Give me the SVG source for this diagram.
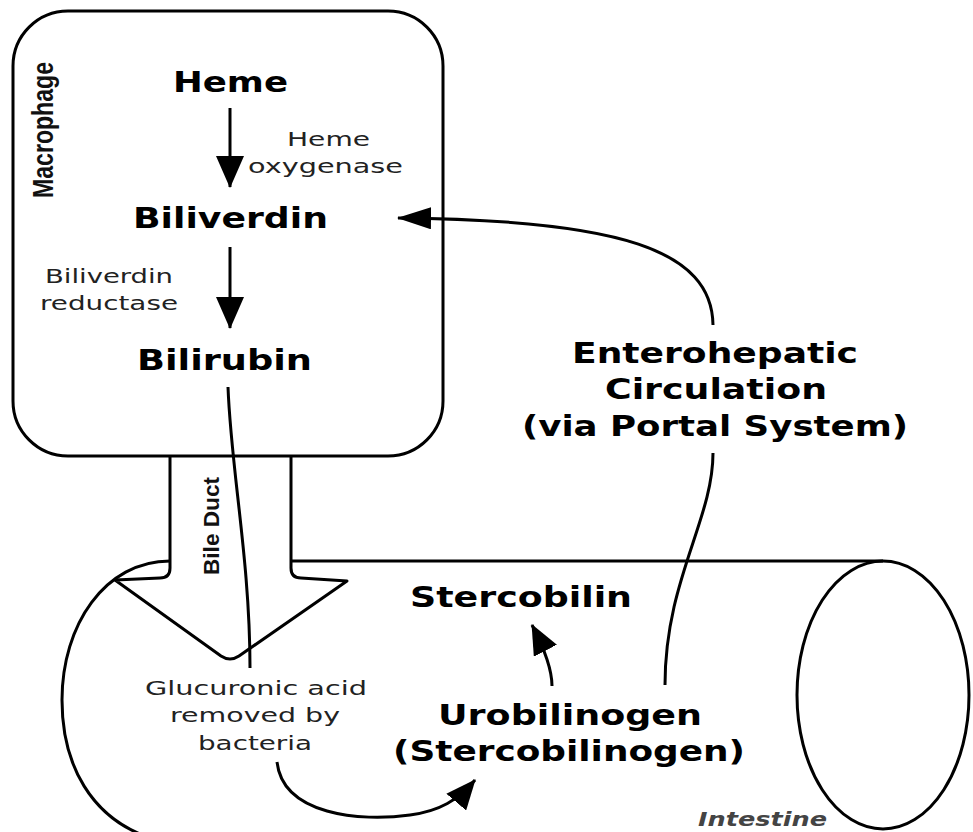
<svg xmlns="http://www.w3.org/2000/svg" width="973" height="832" viewBox="0 0 973 832">
<defs>
<style>
.ln{fill:none;stroke:#000;stroke-width:3;stroke-linecap:butt;stroke-linejoin:round}
.big{font-family:"DejaVu Sans",Verdana,sans-serif;font-weight:bold;font-size:28px;fill:#000}
.sm{font-family:"DejaVu Sans",Verdana,sans-serif;font-size:20px;fill:#222}
.rot{font-family:"Liberation Sans",Arial,sans-serif;font-weight:bold;fill:#111}
.it{font-family:"DejaVu Sans",Verdana,sans-serif;font-style:italic;font-weight:bold;font-size:19px;fill:#444}
</style>
<marker id="ah" viewBox="0 0 32 28" refX="31" refY="14" markerWidth="32" markerHeight="28" markerUnits="userSpaceOnUse" orient="auto">
<path d="M0,0 L32,14 L0,28 z" fill="#000"/>
</marker>
<marker id="ah2" viewBox="0 0 34 22" refX="33" refY="11" markerWidth="34" markerHeight="22" markerUnits="userSpaceOnUse" orient="auto">
<path d="M0,0 L34,11 L0,22 z" fill="#000"/>
</marker>
<marker id="ah3" viewBox="0 0 30 26" refX="29" refY="13" markerWidth="30" markerHeight="26" markerUnits="userSpaceOnUse" orient="auto">
<path d="M0,0 L30,13 L0,26 z" fill="#000"/>
</marker>
</defs>
<rect width="973" height="832" fill="#fff"/>

<g id="intestine">
<path class="ln" d="M291,561 L883,561"/>
<ellipse class="ln" cx="883" cy="695" rx="86" ry="134"/>
<path class="ln" d="M170,561 C105,561 62,625 62,700 C62,770 95,815 140,834"/>
<text class="it" x="698" y="826" textLength="129" lengthAdjust="spacingAndGlyphs">Intestine</text>
</g>

<g id="macrophage">
<rect class="ln" x="13" y="11" width="430" height="445" rx="55" ry="55"/>
<text class="rot" font-size="29" transform="translate(53,198) rotate(-90)" x="0" y="0" textLength="136" lengthAdjust="spacingAndGlyphs">Macrophage</text>
</g>

<g id="bile-duct">
<path class="ln" d="M170,456 L170,568 Q170,578 160,578 L115,580 L221,656 Q230,662 239,656 L347,581 L301,578 Q291,578 291,568 L291,456"/>
<text class="rot" font-size="22" transform="translate(219,575) rotate(-90)" x="0" y="0" textLength="98" lengthAdjust="spacingAndGlyphs">Bile Duct</text>
</g>

<g id="heme">
<text class="big" x="173" y="92" font-size="29" textLength="115" lengthAdjust="spacingAndGlyphs">Heme</text>
</g>
<g id="heme-oxygenase">
<text class="sm" x="287" y="146" textLength="83" lengthAdjust="spacingAndGlyphs">Heme</text>
<text class="sm" x="248" y="173" textLength="155" lengthAdjust="spacingAndGlyphs">oxygenase</text>
</g>
<g id="biliverdin">
<text class="big" x="133" y="228" textLength="195" lengthAdjust="spacingAndGlyphs">Biliverdin</text>
</g>
<g id="biliverdin-reductase">
<text class="sm" x="45" y="283" textLength="128" lengthAdjust="spacingAndGlyphs">Biliverdin</text>
<text class="sm" x="40" y="310" textLength="138" lengthAdjust="spacingAndGlyphs">reductase</text>
</g>
<g id="bilirubin">
<text class="big" x="137" y="370" textLength="175" lengthAdjust="spacingAndGlyphs">Bilirubin</text>
</g>
<g id="enterohepatic">
<text class="big" x="572" y="363" font-size="29" textLength="286" lengthAdjust="spacingAndGlyphs">Enterohepatic</text>
<text class="big" x="605" y="399" font-size="29" textLength="222" lengthAdjust="spacingAndGlyphs">Circulation</text>
<text class="big" x="522" y="436" font-size="29" textLength="386" lengthAdjust="spacingAndGlyphs">(via Portal System)</text>
</g>
<g id="stercobilin">
<text class="big" x="410" y="607" textLength="222" lengthAdjust="spacingAndGlyphs">Stercobilin</text>
</g>
<g id="urobilinogen">
<text class="big" x="438" y="725" font-size="29" textLength="264" lengthAdjust="spacingAndGlyphs">Urobilinogen</text>
<text class="big" x="393" y="761" font-size="29" textLength="352" lengthAdjust="spacingAndGlyphs">(Stercobilinogen)</text>
</g>
<g id="glucuronic">
<text class="sm" x="145" y="695" textLength="222" lengthAdjust="spacingAndGlyphs">Glucuronic acid</text>
<text class="sm" x="170" y="722" textLength="170" lengthAdjust="spacingAndGlyphs">removed by</text>
<text class="sm" x="198" y="750" textLength="114" lengthAdjust="spacingAndGlyphs">bacteria</text>
</g>

<g id="connectors">
<path class="ln" d="M230,108 L230,187" marker-end="url(#ah)"/>
<path class="ln" d="M230,247 L230,328" marker-end="url(#ah)"/>
<path class="ln" d="M228,387 C231,470 250,560 250,668"/>
<path class="ln" stroke-width="2.5" d="M713,325 C712,250 620,220 398,218" marker-end="url(#ah2)"/>
<path class="ln" d="M713,453 C713,520 665,580 665,685"/>
<path class="ln" d="M552,686 C552,670 545,650 532,625" marker-end="url(#ah3)"/>
<path class="ln" d="M277,762 C283,815 360,822 410,815 C440,811 458,800 475,780" marker-end="url(#ah3)"/>
</g>
</svg>
